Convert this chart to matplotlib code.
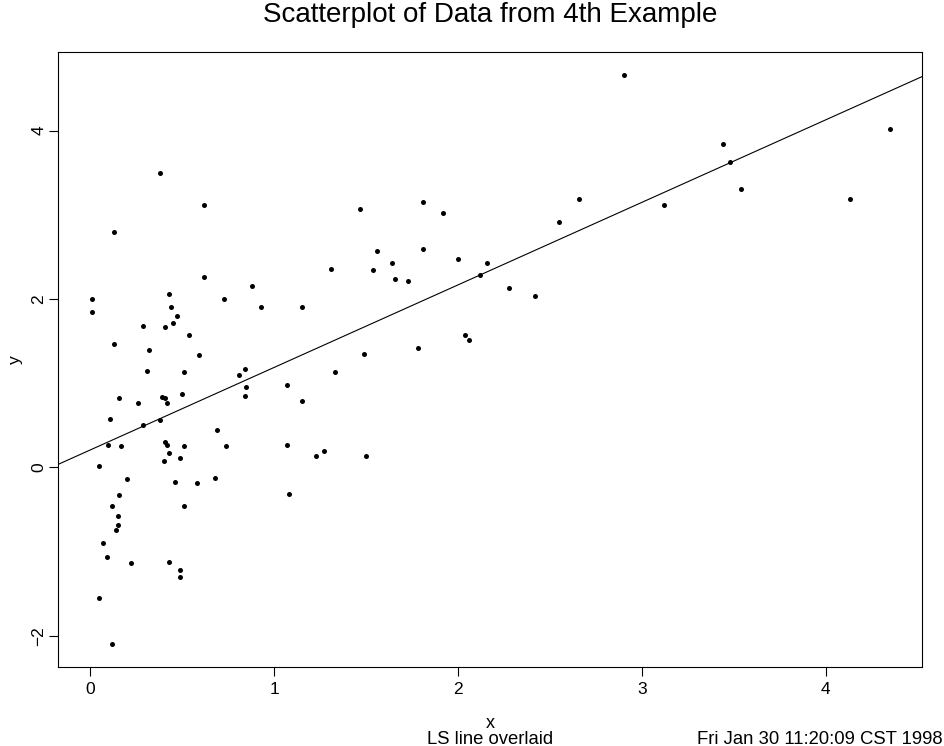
import matplotlib
matplotlib.use("Agg")
import matplotlib.pyplot as plt
import numpy as np

plt.rcParams['font.family'] = ['Liberation Sans', 'DejaVu Sans']

# data
x = [0.38, 0.62, 0.13, 0.62, 0.88, 0.01, 0.43, 0.73, 0.44, 0.93,
     0.01, 0.47, 0.45, 0.29, 0.41, 0.54, 0.13, 0.32, 0.59, 0.31,
     0.51, 0.84, 0.81, 0.85, 0.84, 0.16, 0.26, 0.39, 0.41, 0.42,
     0.50, 0.11, 0.29, 0.38, 0.69, 0.10, 0.17, 0.41, 0.42, 0.51,
     0.74, 0.43, 0.40, 0.49, 0.05, 0.20, 0.46, 0.58, 0.68, 0.16,
     0.12, 0.51, 0.15, 0.15, 0.14, 0.07, 0.09, 0.22, 0.43, 0.49,
     0.49, 0.05, 0.12, 1.47, 1.81, 1.92, 1.56, 1.81, 1.31, 1.54,
     1.64, 1.66, 1.73, 2.00, 2.16, 2.12, 1.15, 2.04, 2.06, 1.78,
     1.49, 1.33, 1.07, 1.15, 1.07, 1.23, 1.27, 1.50, 1.08, 2.90,
     2.28, 2.42, 2.55, 2.66, 3.12, 3.44, 3.48, 3.54, 4.13, 4.35]
y = [3.50, 3.11, 2.80, 2.26, 2.15, 2.00, 2.06, 2.00, 1.91, 1.90,
     1.84, 1.80, 1.72, 1.68, 1.67, 1.57, 1.46, 1.39, 1.33, 1.14,
     1.13, 1.17, 1.10, 0.95, 0.85, 0.82, 0.77, 0.84, 0.82, 0.76,
     0.87, 0.58, 0.50, 0.56, 0.44, 0.27, 0.25, 0.30, 0.27, 0.25,
     0.25, 0.17, 0.08, 0.11, 0.02, -0.14, -0.17, -0.19, -0.13, -0.33,
     -0.46, -0.46, -0.58, -0.68, -0.74, -0.90, -1.06, -1.14, -1.13, -1.22,
     -1.30, -1.55, -2.10, 3.07, 3.15, 3.02, 2.57, 2.59, 2.36, 2.34,
     2.43, 2.24, 2.21, 2.48, 2.43, 2.28, 1.91, 1.57, 1.51, 1.42,
     1.35, 1.13, 0.98, 0.79, 0.26, 0.13, 0.20, 0.14, -0.32, 4.66,
     2.13, 2.03, 2.91, 3.19, 3.11, 3.84, 3.63, 3.30, 3.19, 4.02]

fig = plt.figure(figsize=(9.45, 7.46), dpi=100)
ax = fig.add_axes([0.0614, 0.106, 0.9146, 0.824])

ax.plot(x, y, 'o', color='black', markersize=3.6, markeredgewidth=0)

# least squares line across the whole plot
slope, intercept = np.polyfit(x, y, 1)
ax.axline((0, intercept), slope=slope, color='black', linewidth=0.8)

ax.margins(x=0.04, y=0.04)
ax.set_xticks([0, 1, 2, 3, 4])
ax.set_yticks([-2, 0, 2, 4])
ax.tick_params(direction='out', length=6.5, width=0.8, labelsize=12.5)
ax.tick_params(axis='x', pad=4)
ax.tick_params(axis='y', pad=2)
for lab in ax.get_yticklabels():
    lab.set_rotation(90)
    lab.set_va('center')
for s in ax.spines.values():
    s.set_linewidth(0.8)

fig.text(0.519, 0.980, 'Scatterplot of Data from 4th Example', ha='center', va='center', fontsize=20)
ax.set_ylabel('y', fontsize=12.5, labelpad=6)
fig.text(0.519, 0.030, 'x', ha='center', va='center', fontsize=13)
fig.text(0.519, 0.009, 'LS line overlaid', ha='center', va='center', fontsize=13.3)
fig.text(0.997, 0.009, 'Fri Jan 30 11:20:09 CST 1998', ha='right', va='center', fontsize=13.3)

fig.savefig('out.png', dpi=100)
